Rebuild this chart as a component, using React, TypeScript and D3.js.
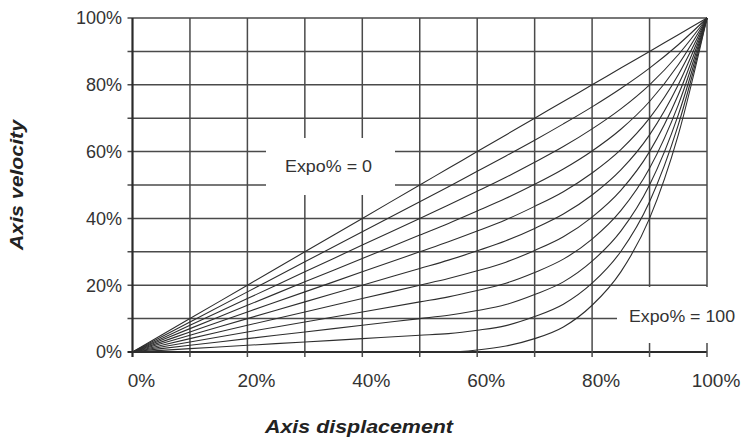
import React from 'react';
import * as d3 from 'd3';

// Axis displacement (%) sample positions
const displacement = [0, 10, 20, 30, 40, 50, 55, 60, 65, 70, 75, 80, 85, 90, 95, 100];

// Axis velocity (%) for each Expo% setting
const expo0 = [0, 10, 20, 30, 40, 50, 55, 60, 65, 70, 75, 80, 85, 90, 95, 100];
const expo10 = [0, 9, 18, 27, 36, 45, 49.5, 54.1, 58.7, 63.4, 68.3, 73.4, 78.9, 85, 92, 100];
const expo20 = [0, 8, 16, 24, 32, 40, 44, 48.1, 52.3, 56.8, 61.5, 66.8, 72.8, 80, 89, 100];
const expo30 = [0, 7, 14, 21, 28, 35, 38.5, 42.2, 46, 50.2, 54.8, 60.2, 66.7, 75, 86, 100];
const expo40 = [0, 6, 12, 18, 24, 30, 33, 36.2, 39.6, 43.6, 48, 53.6, 60.6, 70, 83, 100];
const expo50 = [0, 5, 10, 15, 20, 25, 27.5, 30.3, 33.3, 37, 41.3, 47, 54.5, 65, 80, 100];
const expo60 = [0, 4, 8, 12, 16, 20, 22, 24.3, 26.9, 30.4, 34.5, 40.4, 48.4, 60, 77, 100];
const expo70 = [0, 3, 6, 9, 12, 15, 16.5, 18.4, 20.6, 23.8, 27.8, 33.8, 42.3, 55, 74, 100];
const expo80 = [0, 2, 4, 6, 8, 10, 11, 12.4, 14.2, 17.2, 21, 27.2, 36.2, 50, 71, 100];
const expo90 = [0, 1, 2, 3, 4, 5, 5.5, 6.5, 7.9, 10.6, 14.3, 20.6, 30.1, 45, 68, 100];
const expo100 = [0, 0, 0, 0, 0, 0, 0, 0.6, 1.8, 4, 7.5, 14, 24, 40, 65, 100];

const allSeries = [expo0, expo10, expo20, expo30, expo40, expo50, expo60, expo70, expo80, expo90, expo100];

const xTickLabels = [0, 20, 40, 60, 80, 100];
const yTickLabels = [0, 20, 40, 60, 80, 100];
const gridValues = [0, 10, 20, 30, 40, 50, 60, 70, 80, 90, 100];

const W = 754;
const H = 439;
const FONT = '"Liberation Sans", Arial, Helvetica, sans-serif';

export default function App() {
  const x = d3.scaleLinear().domain([0, 100]).range([132.5, 707]);
  const y = d3.scaleLinear().domain([0, 100]).range([352, 18]);

  const line = d3
    .line<number>()
    .x((_, i) => x(displacement[i]))
    .y((d) => y(d))
    .curve(d3.curveMonotoneX);

  const gridColor = '#4a4a4a';
  const textColor = '#333';

  return (
    <svg
      width={W}
      height={H}
      style={{ position: 'absolute', left: 0, top: 0, background: '#fff' }}
    >
      <rect x={0} y={0} width={W} height={H} fill="#fff" />
      {/* horizontal grid lines with left ticks */}
      {gridValues.map((v) => (
        <line
          key={'h' + v}
          x1={x(0) - 5}
          x2={x(100)}
          y1={y(v)}
          y2={y(v)}
          stroke={v === 0 ? '#2a2a2a' : gridColor}
          strokeWidth={v === 0 ? 2.2 : 1.5}
        />
      ))}
      {/* vertical grid lines with bottom ticks */}
      {gridValues.map((v) => (
        <line
          key={'v' + v}
          x1={x(v)}
          x2={x(v)}
          y1={y(100)}
          y2={y(0) + 5}
          stroke={v === 0 ? '#2a2a2a' : gridColor}
          strokeWidth={v === 0 ? 2.2 : 1.5}
        />
      ))}
      {/* label backgrounds breaking the grid */}
      <rect x={266} y={138} width={129} height={57} fill="#fff" />
      <rect x={617} y={287} width={100} height={56} fill="#fff" />

      {/* curves */}
      {allSeries.map((s, i) => (
        <path
          key={'c' + i}
          d={line(s) || ''}
          fill="none"
          stroke="#2e2e2e"
          strokeWidth={1.1}
        />
      ))}

      {/* y tick labels */}
      {yTickLabels.map((v) => (
        <text
          key={'yl' + v}
          x={122}
          y={y(v)}
          dy="0.35em"
          textAnchor="end"
          fontFamily={FONT}
          fontSize={18}
          fill={textColor}
        >
          {v}%
        </text>
      ))}
      {/* x tick labels */}
      {xTickLabels.map((v) => (
        <text
          key={'xl' + v}
          x={x(v) + 9}
          y={387}
          textAnchor="middle"
          fontFamily={FONT}
          fontSize={19}
          fill={textColor}
        >
          {v}%
        </text>
      ))}

      {/* annotations */}
      <text
        x={285}
        y={172}
        fontFamily={FONT}
        fontSize={17}
        fill={textColor}
        textLength={87}
        lengthAdjust="spacingAndGlyphs"
      >
        Expo% = 0
      </text>
      <text
        x={629}
        y={322}
        fontFamily={FONT}
        fontSize={17}
        fill={textColor}
        textLength={106}
        lengthAdjust="spacingAndGlyphs"
      >
        Expo% = 100
      </text>

      {/* axis titles */}
      <text
        x={265}
        y={433}
        fontFamily={FONT}
        fontSize={18}
        fontWeight="bold"
        fontStyle="italic"
        fill="#222"
        textLength={188}
        lengthAdjust="spacingAndGlyphs"
      >
        Axis displacement
      </text>
      <text
        transform={`translate(23,250) rotate(-90)`}
        fontFamily={FONT}
        fontSize={18}
        fontWeight="bold"
        fontStyle="italic"
        fill="#222"
        textLength={130}
        lengthAdjust="spacingAndGlyphs"
      >
        Axis velocity
      </text>
    </svg>
  );
}
